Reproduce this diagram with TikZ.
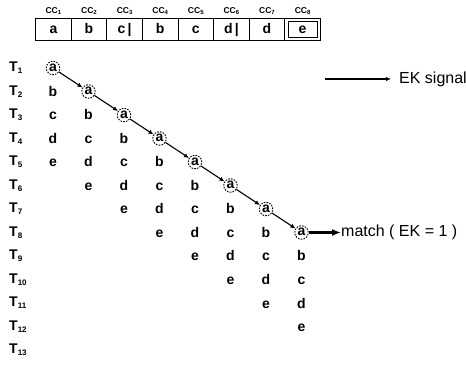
\documentclass[tikz,border=0pt]{standalone}
\usepackage{fontspec}
\setmainfont{Liberation Sans}
\usetikzlibrary{arrows.meta}
\newcommand\subT[1]{T\raisebox{-1.8pt}{\fontsize{8}{8}\selectfont #1}}
\newcommand\subCC[1]{CC\raisebox{-1pt}{\fontsize{6}{6}\selectfont #1}}
\begin{document}
\begin{tikzpicture}[x=1pt,y=-1pt,
  lt/.style={font=\fontsize{14}{14}\selectfont\bfseries, inner sep=0pt, text height=10pt, text depth=0pt},
  cellbox/.style={draw, minimum width=35.6pt, minimum height=22pt, inner sep=0pt, font=\fontsize{14}{14}\selectfont\bfseries, line width=0.9pt, text height=10pt, text depth=0pt},
  cclab/.style={font=\fontsize{8.5}{8.5}\selectfont\bfseries, inner sep=0pt},
  tlab/.style={font=\fontsize{14}{14}\selectfont\bfseries, inner sep=0pt, anchor=west},
  hit/.style={circle, draw, dash pattern=on 1.6pt off 1.2pt, line width=0.9pt, minimum size=13.5pt, inner sep=0pt, font=\fontsize{14}{14}\selectfont\bfseries, text height=7pt, text depth=0pt},
  sig/.style={-{Latex[length=5pt,width=4.5pt]}, line width=1.1pt},
  bigsig/.style={-{Latex[length=9pt,width=7pt]}, line width=3pt},
  note/.style={font=\fontsize{16}{16}\selectfont, inner sep=0pt, anchor=west},
]
\useasboundingbox (0,0) rectangle (466,366);
% register cells
\foreach \t [count=\i] in {a,b,{c\,|},b,c,{d\,|},d,e}{
  \node[cellbox] (c\i) at ({35.6+35.6*(\i-0.5)},29) {\t};
  \node[cclab] (cc\i) at ({35.6+35.6*(\i-0.5)},11) {\subCC{\i}};
}
\node[draw, line width=0.9pt, minimum width=29pt, minimum height=16pt, inner sep=0pt] (c8in) at (c8.center) {};
% time labels
\foreach \r in {1,...,13}{
  \node[tlab] (t\r) at (9,{68+23.5*(\r-1)}) {\subT{\r}};
}
% table
\foreach \j in {1,...,8}{
  \node[hit] (a\j) at ({53+35.5*(\j-1)},{68+23.5*(\j-1)}) {a};
  \foreach \l [count=\k] in {b,c,d,e}{
    \node[lt] (\l\j) at ({53+35.5*(\j-1)},{68+23.5*(\j-1+\k)}) {\l};
  }
}
\foreach \j [evaluate=\j as \n using int(\j+1)] in {1,...,7}{
  \draw[sig] (a\j) -- (a\n);
}
% legend
\coordinate (ek0) at (325,79);
\node[note] (ek) at (399,79) {EK signal};
\draw[sig, shorten >=8pt] (ek0) -- (ek);
% match
\node[note] (m) at (341,{68+23.5*7}) {match ( EK = 1 )};
\draw[bigsig] (a8) -- (m);
\end{tikzpicture}
\end{document}
